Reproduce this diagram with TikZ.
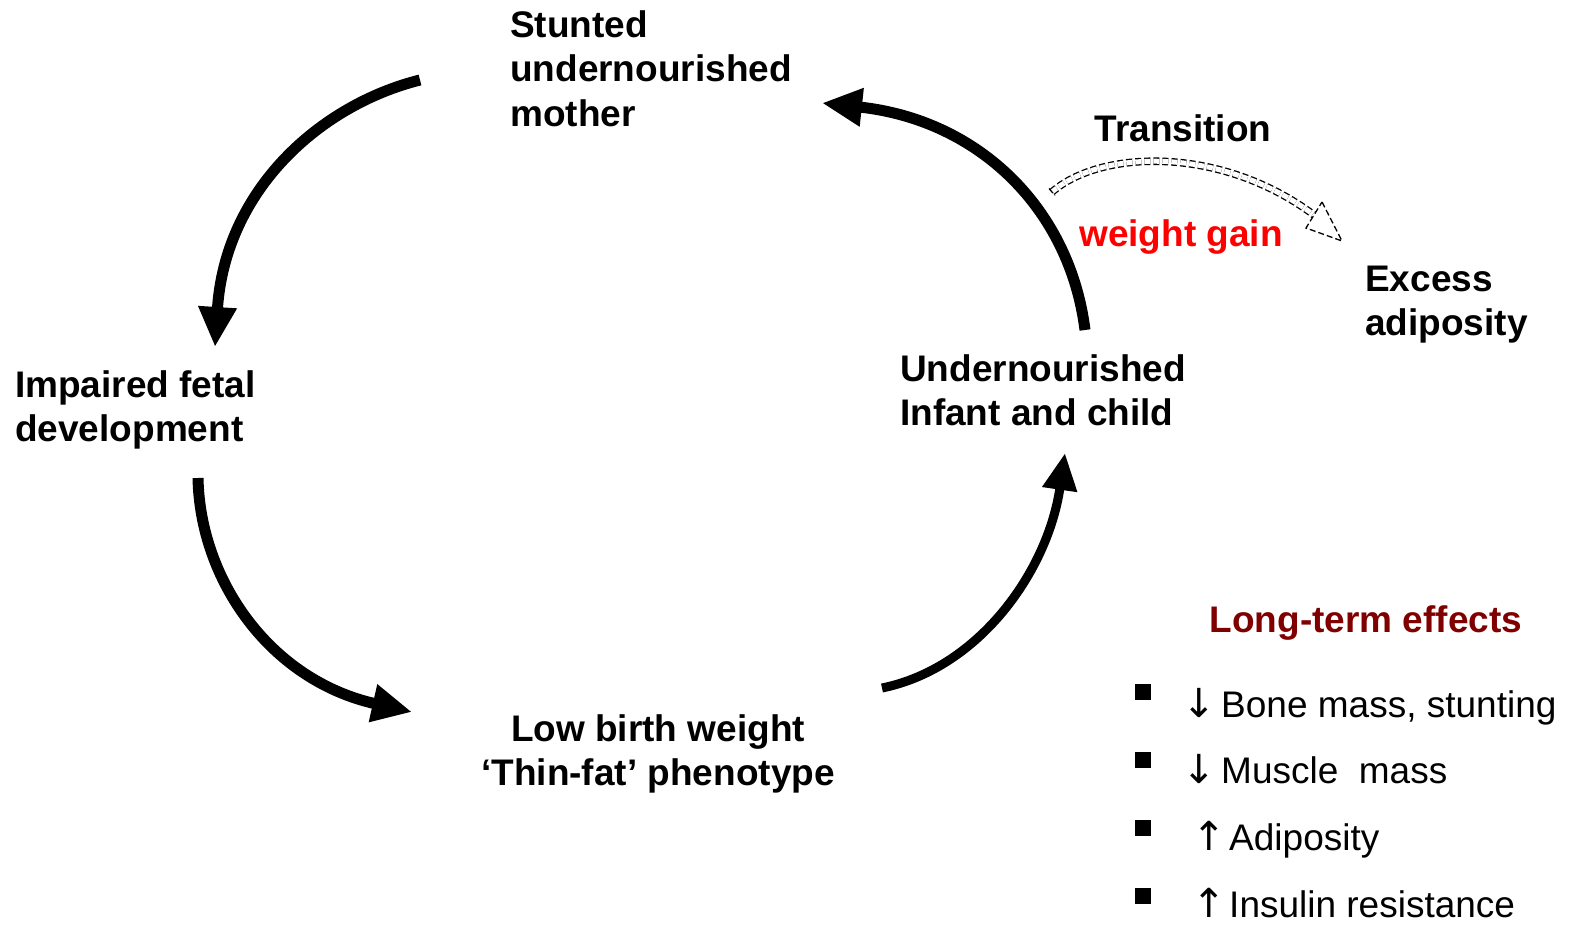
\documentclass[tikz,border=0pt]{standalone}
\usepackage{fontspec}
\setmainfont{Liberation Sans}
\newfontfamily\arrowfont{DejaVu Sans}
\usetikzlibrary{arrows.meta}
\definecolor{effred}{RGB}{128,0,0}
\newcommand{\effarrow}[2]{\makebox[#1][l]{\arrowfont\fontsize{40}{40}\selectfont #2}}
\begin{document}
\begin{tikzpicture}[x=1pt,y=-1pt,
  lbl/.style={inner sep=0pt, font=\fontsize{37}{44.5}\selectfont\bfseries},
  eff/.style={inner sep=0pt, anchor=base west, font=\fontsize{37}{44.5}\selectfont},
  cyc/.style={line width=11pt, -{Triangle[length=40pt,width=36pt]}},
  bul/.style={fill=black, minimum size=16pt, inner sep=0pt},
  trans/.style={dash pattern=on 6pt off 3pt, line width=1.3pt}]
\useasboundingbox[fill=white] (0,0) rectangle (1577,924);

% labels
\node[lbl, anchor=base west] (mother) at (510,37)
  {\begin{tabular}[t]{@{}l@{}}Stunted\\undernourished\\mother\end{tabular}};
\node[lbl, anchor=base west] (fetal) at (15,397)
  {\begin{tabular}[t]{@{}l@{}}Impaired fetal\\development\end{tabular}};
\node[lbl, anchor=base] (lbw) at (658,741)
  {\begin{tabular}[t]{@{}c@{}}Low birth weight\\‘Thin-fat’ phenotype\end{tabular}};
\node[lbl, anchor=base west] (child) at (900,381)
  {\begin{tabular}[t]{@{}l@{}}Undernourished\\Infant and child\end{tabular}};
\node[lbl, anchor=base] (transition) at (1183,141) {Transition};
\node[lbl, anchor=base, text=red] (gain) at (1181,246) {weight gain};
\node[lbl, anchor=base west] (excess) at (1365,291)
  {\begin{tabular}[t]{@{}l@{}}Excess\\adiposity\end{tabular}};
\node[lbl, anchor=base, text=effred] (lte) at (1366,632) {Long-term effects};

% effects list
\node[bul] (b1) at (1143,692) {};
\node[bul] (b2) at (1143,760) {};
\node[bul] (b3) at (1143,828) {};
\node[bul] (b4) at (1143,896) {};
\node[eff] (e1) at (1182,717) {\effarrow{39pt}{↓}Bone mass, stunting};
\node[eff] (e2) at (1182,783) {\effarrow{39pt}{↓}Muscle~~mass};
\node[eff] (e3) at (1192,850) {\effarrow{37pt}{↑}Adiposity};
\node[eff] (e4) at (1192,917) {\effarrow{37pt}{↑}Insulin resistance};

% cycle arrows
\coordinate (a1s) at (420,80);   \coordinate (a1e) at (215,347);
\coordinate (a2s) at (198,478);  \coordinate (a2e) at (412,712);
\coordinate (a3s) at (882,688);  \coordinate (a3e) at (1065,453);
\coordinate (a4s) at (1085,330); \coordinate (a4e) at (822,103);
\draw[cyc] (a1s) .. controls (320,105) and (225,190) .. (a1e);
\draw[cyc] (a2s) .. controls (200,580) and (270,680) .. (a2e);
\draw[cyc, line width=9pt, -{Triangle[length=37pt,width=33pt]}]
  (a3s) .. controls (980,668) and (1048,570) .. (a3e);
\draw[cyc] (a4s) .. controls (1070,210) and (980,120) .. (a4e);

% transition arrow (hollow, dashed)
\coordinate (ts) at (1052,192);
\coordinate (te) at (1314,215);
\coordinate (ts1) at (1049,188.5);
\coordinate (ts2) at (1055,195.5);
\coordinate (th1) at (1322,202);
\coordinate (th2) at (1306,228);
\coordinate (tt) at (1342,241);
\draw[trans, double=white, double distance=5pt]
  (ts) .. controls (1100,150) and (1220,145) .. (te);
\draw[trans] (ts1) -- (ts2);
\draw[trans, fill=white] (th1) -- (tt) -- (th2) -- cycle;
\end{tikzpicture}
\end{document}
